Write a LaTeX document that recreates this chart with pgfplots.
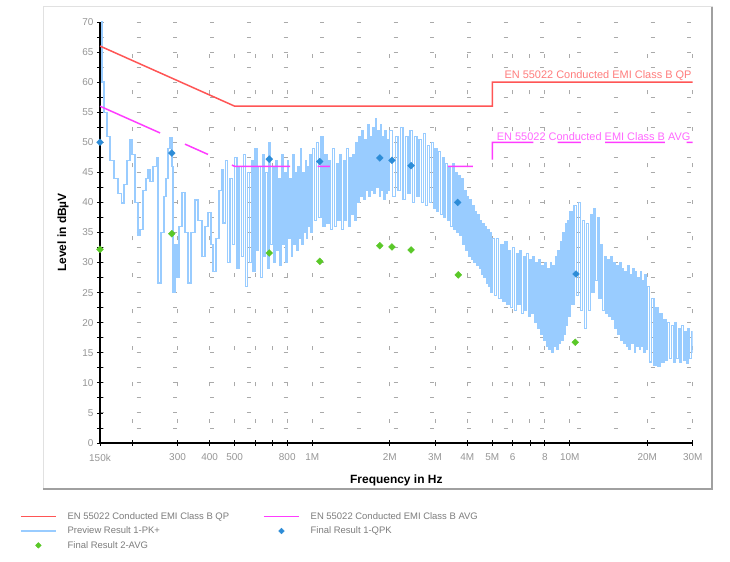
\documentclass[border=0pt]{standalone}
\usepackage{fontspec}
\setmainfont{Liberation Sans}
\usepackage{pgfplots}
\pgfplotsset{compat=1.18}
\definecolor{qpred}{RGB}{255,85,85}
\definecolor{avgmag}{RGB}{255,60,255}
\definecolor{prevblue}{RGB}{153,204,255}
\definecolor{qpkblue}{RGB}{45,140,215}
\definecolor{avggreen}{RGB}{90,200,40}
\definecolor{tickgray}{RGB}{150,150,150}
\definecolor{gridgray}{RGB}{170,170,170}
\definecolor{legendgray}{RGB}{125,125,125}
\definecolor{qplabel}{RGB}{255,125,125}
\definecolor{avglabel}{RGB}{255,105,255}
\definecolor{framelight}{RGB}{225,225,225}
\definecolor{framedark}{RGB}{160,160,160}
\begin{document}
\begin{tikzpicture}[x=1bp,y=1bp]
\path[use as bounding box] (0,0) rectangle (730,562);
\fill[white] (0,0) rectangle (730,562);
\draw[framelight, line width=1bp] (43,73) rectangle (712,555);
\draw[framedark, line width=1.2bp] (43,73) -- (712,73) -- (712,555);
\begin{axis}[
  at={(100bp,119bp)}, anchor=south west, scale only axis,
  width=592.7bp, height=421bp,
  xmode=log, xmin=0.15, xmax=30, ymin=0, ymax=70,
  clip mode=individual,
  unbounded coords=jump,
  axis lines=left,
  axis line style={-, black, line width=1.3bp},
  xtick={0.15,0.2,0.3,0.4,0.5,0.6,0.7,0.8,1,2,3,4,5,6,7,8,10,20,30},
  xticklabels={150k,,300,400,500,,,800,1M,2M,3M,4M,5M,6,,8,10M,20M,30M},
  minor xtick={},
  ytick={0,5,...,70},
  minor ytick={2.5,7.5,...,67.5},
  grid=both,
  x grid style={gridgray, line width=0.9bp, dash pattern=on 4bp off 32.5bp, dash phase=16.5bp},
  y grid style={gridgray, line width=0.9bp, dash pattern=on 4bp off 32.7bp},
  tick align=center,
  major tick length=6bp, minor tick length=6bp,
  tick style={black, line width=0.8bp},
  /pgf/number format/assume math mode=true,
  tick label style={text=tickgray, font=\fontsize{10}{12}\selectfont},
  xticklabel style={yshift=-4.5bp},
  xlabel={Frequency in Hz},
  ylabel={Level in dBµV},
  xlabel style={at={(axis description cs:0.5,-0.088)}, anchor=center, font=\bfseries\fontsize{12}{14}\selectfont},
  ylabel style={at={(axis description cs:-0.0624,0.5)}, anchor=center, font=\bfseries\fontsize{12}{14}\selectfont},
  legend columns=2,
  legend cell align=left,
  legend image code/.code={\draw[mark repeat=2,mark phase=2,#1] plot coordinates {(0bp,0bp) (17.5bp,0bp) (35bp,0bp)};},
  legend style={at={(axis description cs:-0.135,-0.1575)}, anchor=north west, draw=none, fill=none,
    inner sep=0pt, font=\fontsize{9.5}{11}\selectfont, text=legendgray, row sep=0bp,
    nodes={inner sep=3bp},
    /tikz/every even column/.append style={column sep=31bp},
    /tikz/every odd column/.append style={column sep=8bp}},
]
% Preview Result 1-PK+
\addplot[prevblue, line width=1.4bp, const plot, forget plot] coordinates {
(0.150,72) (0.1527,60) (0.1555,55) (0.1597,51) (0.1640,47) (0.1700,44) (0.1762,41.5) (0.1821,39.9)
(0.1859,43) (0.1909,47) (0.1961,50.4) (0.1997,48) (0.2051,40) (0.2107,34.6) (0.2145,35.5) (0.2203,42)
(0.2263,44) (0.2304,45.5) (0.2345,43.5) (0.2409,46) (0.2486,47.4) (0.2519,26.6) (0.2588,35) (0.2658,41)
(0.2706,44) (0.2755,49) (0.2805,50.7) (0.2856,46) (0.2881,25.1) (0.2933,33) (0.2986,27.6) (0.3040,36)
(0.3123,41.6) (0.3207,35) (0.3295,26.6) (0.3384,35) (0.3507,40.4) (0.3603,37) (0.3733,31) (0.3835,36)
(0.3939,38.3) (0.4046,33) (0.4119,28.5) (0.4231,34) (0.4346,42) (0.4453,45.4) (0.4505,36.6)
(0.46,47) (0.47,30) (0.48,44) (0.49,33) (0.50,47.5) (0.51,29) (0.52,46) (0.53,31) (0.54,48) (0.55,26)
(0.56,45) (0.57,30) (0.58,47) (0.59,28.5) (0.60,49) (0.61,32) (0.62,46) (0.63,27.5) (0.64,48) (0.65,31)
(0.66,45) (0.67,29) (0.68,50) (0.69,33) (0.70,46) (0.71,30) (0.72,47) (0.73,32) (0.74,44) (0.75,29.5)
(0.76,48) (0.77,33) (0.78,45) (0.79,30) (0.80,47) (0.81,34) (0.82,44) (0.83,31) (0.84,48) (0.85,33)
(0.86,45) (0.87,32) (0.88,46) (0.89,34) (0.90,49) (0.91,33) (0.92,45) (0.93,35) (0.94,47) (0.95,34)
(0.96,46) (0.97,36) (0.98,48) (0.99,35) (1.00,49)
(1.02,37) (1.04,50) (1.06,37.5) (1.08,51) (1.10,36) (1.12,48) (1.14,36.5) (1.16,47) (1.18,35.5) (1.20,49)
(1.22,36) (1.24,46.5) (1.26,37) (1.28,48) (1.30,35.5) (1.32,47) (1.34,37) (1.36,49) (1.38,36) (1.40,47.5)
(1.42,38) (1.44,48) (1.46,37) (1.48,50) (1.50,40) (1.52,51) (1.54,41) (1.56,52) (1.58,40.5) (1.60,50.5)
(1.62,42) (1.64,53) (1.66,41) (1.68,51) (1.70,42) (1.72,52.5) (1.74,41.5) (1.76,54) (1.78,42.5) (1.80,52)
(1.82,41) (1.84,53) (1.86,42) (1.88,51) (1.90,40.5) (1.92,52) (1.94,41.5) (1.96,50.5) (1.98,42) (2.00,52)
(2.05,41) (2.10,51) (2.15,42) (2.20,52.5) (2.25,40.5) (2.30,51) (2.35,41.5) (2.40,52) (2.45,40) (2.50,51)
(2.55,41) (2.60,50.5) (2.65,40) (2.70,51.5) (2.75,39.5) (2.80,49.5) (2.85,40) (2.90,50) (2.95,39) (3.00,49)
(3.05,38.5) (3.10,48.5) (3.15,38) (3.20,47.5) (3.25,37.5) (3.30,46.5) (3.35,37) (3.40,46) (3.45,36) (3.50,46.5)
(3.55,35.5) (3.60,45) (3.65,35) (3.70,44.5) (3.75,34.5) (3.80,44) (3.85,33) (3.90,42) (3.95,32) (4.00,41)
(4.05,31) (4.10,40.5) (4.15,30.5) (4.20,39.5) (4.25,30) (4.30,38.5) (4.35,29.5) (4.40,38) (4.45,29) (4.50,37)
(4.55,28) (4.60,36.5) (4.65,27.5) (4.70,36) (4.75,26.5) (4.80,35.5) (4.85,26) (4.90,35) (4.95,25) (5.00,34)
(5.1,24.5) (5.2,34) (5.3,24) (5.4,33) (5.5,23.5) (5.6,33.5) (5.7,23) (5.8,32) (5.9,22.5) (6.0,32.5)
(6.1,22) (6.2,31.5) (6.3,23) (6.4,32) (6.5,21.5) (6.6,31) (6.7,22) (6.8,31.5) (6.9,21) (7.0,30.5)
(7.1,21.5) (7.2,31) (7.3,20) (7.4,30) (7.5,19) (7.6,30.5) (7.7,18) (7.8,29.5) (7.9,17) (8.0,30)
(8.1,16) (8.2,29) (8.3,15.5) (8.4,30) (8.5,15) (8.6,29.5) (8.7,16) (8.8,31) (8.9,15.5) (9.0,32)
(9.1,16.5) (9.2,33.5) (9.3,17) (9.4,35) (9.5,18) (9.6,36.5) (9.7,19.5) (9.8,37) (9.9,21) (10.0,38.5)
(10.2,23) (10.4,39.5) (10.6,24.5) (10.8,40) (11.0,22) (11.2,37) (11.4,19) (11.6,36.5) (11.8,22) (12.0,38)
(12.2,25) (12.4,39) (12.6,27) (12.8,37.5) (13.0,24) (13.2,33) (13.4,22) (13.6,31) (13.8,21.5) (14.0,30.5)
(14.2,21) (14.4,31) (14.6,20.5) (14.8,30) (15.0,19) (15.2,29.5) (15.4,18) (15.6,30) (15.8,17) (16.0,29)
(16.2,16.5) (16.4,28.5) (16.6,16) (16.8,29.5) (17.0,15.5) (17.2,28) (17.4,16.5) (17.6,29) (17.8,15) (18.0,28.5)
(18.2,16) (18.4,27.5) (18.6,15.5) (18.8,28.5) (19.0,16) (19.2,27) (19.4,15) (19.6,28) (19.8,15.5) (20.0,26)
(20.4,13.5) (20.8,24) (21.2,13) (21.6,22.5) (22.0,12.8) (22.4,21.5) (22.8,13.5) (23.2,20.5) (23.6,13.8) (24.0,20)
(24.4,14) (24.8,19.5) (25.2,13.5) (25.6,20) (26.0,14) (26.4,19) (26.8,13.5) (27.2,19.5) (27.6,13.8) (28.0,18.5)
(28.4,13.2) (28.8,19) (29.2,14) (29.6,18.5) (30.0,15)
};
% EN 55022 Class B AVG limit (visible segments)
\addplot[avgmag, line width=1.5bp, forget plot] coordinates {
(0.15,56) (0.2566,51.55) (0.26,nan)
(0.3207,49.69) (0.3939,47.98) (0.40,nan)
(0.4878,46.2) (0.5,46) (0.82,46) (0.83,nan)
(1.05,46) (1.17,46) (1.2,nan)
(3.37,46) (4.2,46) (4.3,nan)
(5,47.1) (5,50) (7.22,50) (7.3,nan)
(8.97,50) (11.05,50) (11.1,nan)
(13.7,50) (23.4,50) (23.5,nan)
(28.4,50) (30,50)
};
% EN 55022 Class B QP limit
\addplot[qpred, line width=1.5bp, forget plot] coordinates {
(0.15,66) (0.5,56) (5,56) (5,60) (30,60)
};
% Final Result 1-QPK
\addplot[only marks, mark=square*, mark options={rotate=45}, mark size=2.4bp, qpkblue, forget plot] coordinates {
(0.15,50) (0.285,48.2) (0.681,47.2) (1.07,46.8) (1.83,47.4) (2.04,47.0) (2.42,46.1) (3.67,40.0) (10.57,28.1)
};
% Final Result 2-AVG
\addplot[only marks, mark=square*, mark options={rotate=45}, mark size=2.4bp, avggreen, forget plot] coordinates {
(0.15,32.2) (0.285,34.8) (0.681,31.6) (1.07,30.2) (1.83,32.8) (2.04,32.6) (2.42,32.1) (3.69,27.95) (10.5,16.75)
};
\node[anchor=south east, inner sep=1bp, text=qplabel, font=\fontsize{11}{13}\selectfont] at (axis cs:30,60) {EN 55022 Conducted EMI Class B QP};
\node[anchor=south east, inner sep=1bp, text=avglabel, font=\fontsize{11}{13}\selectfont] at (axis cs:29.7,50) {EN 55022 Conducted EMI Class B AVG};
\addlegendimage{qpred, line width=1.5bp}
\addlegendentry{EN 55022 Conducted EMI Class B QP}
\addlegendimage{avgmag, line width=1.5bp}
\addlegendentry{EN 55022 Conducted EMI Class B AVG}
\addlegendimage{prevblue, line width=1.5bp}
\addlegendentry{Preview Result 1-PK+}
\addlegendimage{only marks, mark=square*, mark options={rotate=45}, mark size=2bp, qpkblue}
\addlegendentry{Final Result 1-QPK}
\addlegendimage{only marks, mark=square*, mark options={rotate=45}, mark size=2bp, avggreen}
\addlegendentry{Final Result 2-AVG}
\end{axis}
\end{tikzpicture}
\end{document}
